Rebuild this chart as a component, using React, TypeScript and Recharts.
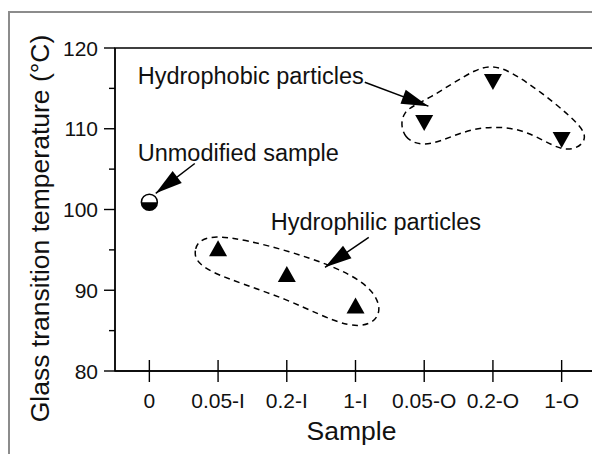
import React from 'react';
import { ComposedChart, XAxis, YAxis, Scatter, Line, ReferenceArea, ReferenceDot } from 'recharts';

const categories = ['0', '0.05-I', '0.2-I', '1-I', '0.05-O', '0.2-O', '1-O'];
const xTicks = [0, 1, 2, 3, 4, 5, 6];
const yTicks = [80, 85, 90, 95, 100, 105, 110, 115, 120];

const unmodified = [{ x: 0, y: 100.9 }];
const hydrophilic = [
  { x: 1, y: 95.2 },
  { x: 2, y: 92.0 },
  { x: 3, y: 88.1 },
];
const hydrophobic = [
  { x: 4, y: 110.7 },
  { x: 5, y: 115.8 },
  { x: 6, y: 108.6 },
];

// dashed enclosure outlines (data coordinates, smoothed by a closed B-spline)
const hydrophilicOutline = [
  { x: 0.81, y: 97.4 },
  { x: 0.62, y: 94.9 },
  { x: 0.73, y: 92.4 },
  { x: 2.04, y: 89.0 },
  { x: 2.95, y: 84.8 },
  { x: 3.44, y: 86.5 },
  { x: 3.24, y: 91.2 },
  { x: 2.04, y: 95.0 },
];
const hydrophobicOutline = [
  { x: 3.645, y: 112.3 },
  { x: 3.674, y: 108.6 },
  { x: 4.081, y: 107.6 },
  { x: 4.664, y: 110.3 },
  { x: 5.464, y: 110.3 },
  { x: 6.046, y: 106.6 },
  { x: 6.43, y: 108.6 },
  { x: 6.193, y: 111.3 },
  { x: 5.173, y: 118.0 },
  { x: 4.784, y: 117.8 },
  { x: 4.052, y: 113.5 },
];

// annotation arrows: tail -> tip
const arrowHydrophobic = [
  { x: 3.135, y: 115.75 },
  { x: 4.061, y: 112.8 },
];
const arrowUnmodified = [
  { x: 0.661, y: 105.7 },
  { x: 0.093, y: 102.0 },
];
const arrowHydrophilic = [
  { x: 3.193, y: 96.56 },
  { x: 2.556, y: 92.84 },
];

const annotationX = [-0.169, -0.169, 1.766];
const annotationY = [116.5, 107.0, 98.4];
const annotationText = ['Hydrophobic particles', 'Unmodified sample', 'Hydrophilic particles'];

const FONT = 'Arial, "Liberation Sans", Helvetica, sans-serif';
const TICK_SIZE = 11;
const TICK_MARGIN = 6;
const INK = '#111';

const YTick = (props: any) => {
  const { x, y, payload } = props;
  const axisX = x + TICK_SIZE + TICK_MARGIN;
  const major = payload.value % 10 === 0;
  return (
    <g>
      <line x1={axisX - (major ? 11 : 6)} x2={axisX} y1={y} y2={y} stroke="#000" strokeWidth={1.4} />
      {major && (
        <text x={x} y={y} textAnchor="end" dominantBaseline="central" fontSize={21} fill={INK} fontFamily={FONT}>
          {payload.value}
        </text>
      )}
    </g>
  );
};

const XTick = (props: any) => {
  const { x, y, payload } = props;
  const axisY = y - TICK_SIZE - TICK_MARGIN;
  return (
    <g>
      <line x1={x} x2={x} y1={axisY - 11} y2={axisY + 11} stroke="#000" strokeWidth={1.4} />
      <text x={x} y={axisY + 29.5} textAnchor="middle" dominantBaseline="central" fontSize={21} fill={INK} fontFamily={FONT}>
        {categories[payload.value]}
      </text>
    </g>
  );
};

const XTitle = (props: any) => {
  const vb = props.viewBox || {};
  return (
    <text x={vb.x + vb.width / 2 - 4} y={vb.y + 60} textAnchor="middle" dominantBaseline="central" fontSize={26.5} fill={INK} fontFamily={FONT}>
      Sample
    </text>
  );
};

const YTitle = (props: any) => {
  const vb = props.viewBox || {};
  const cx = vb.x + 32;
  const cy = vb.y + vb.height / 2 + 19;
  return (
    <text x={cx} y={cy} transform={`rotate(-90 ${cx} ${cy})`} textAnchor="middle" dominantBaseline="central" fontSize={26.5} fill={INK} fontFamily={FONT}>
      Glass transition temperature (°C)
    </text>
  );
};

const HalfCircle = (props: any) => {
  const { cx, cy } = props;
  const r = 8;
  return (
    <g>
      <path d={`M ${cx - r} ${cy} A ${r} ${r} 0 0 0 ${cx + r} ${cy} Z`} fill="#000" />
      <circle cx={cx} cy={cy} r={r} fill="none" stroke="#000" strokeWidth={1.5} />
    </g>
  );
};

const UpTriangle = (props: any) => {
  const { cx, cy } = props;
  return <polygon points={`${cx},${cy - 8} ${cx + 9},${cy + 8} ${cx - 9},${cy + 8}`} fill="#000" />;
};

const DownTriangle = (props: any) => {
  const { cx, cy } = props;
  return <polygon points={`${cx - 9},${cy - 8} ${cx + 9},${cy - 8} ${cx},${cy + 8}`} fill="#000" />;
};

const ArrowHead = (props: any) => {
  const { cx, cy, index, points } = props;
  if (!points || index !== points.length - 1 || index === 0) return <g key={`ah-${index}`} />;
  const prev = points[index - 1];
  const ang = Math.atan2(cy - prev.y, cx - prev.x);
  const L = 27;
  const W = 7.5;
  const bx = cx - L * Math.cos(ang);
  const by = cy - L * Math.sin(ang);
  const px = -Math.sin(ang) * W;
  const py = Math.cos(ang) * W;
  return (
    <polygon
      key={`ah-${index}`}
      points={`${cx},${cy} ${bx + px},${by + py} ${bx - px},${by - py}`}
      fill="#000"
    />
  );
};

const arrows = [arrowHydrophobic, arrowUnmodified, arrowHydrophilic];
const outlines = [hydrophilicOutline, hydrophobicOutline];

export default function App() {
  return (
    <div style={{ position: 'relative', width: 592, height: 446, fontFamily: FONT }}>
      <div
        style={{
          position: 'absolute',
          left: 0,
          top: 3,
          right: 0,
          bottom: 0,
          borderLeft: '2px solid #8c8c8c',
          borderTop: '2px solid #8c8c8c',
        }}
      />
      <ComposedChart
        width={592}
        height={446}
        margin={{ top: 40, right: 4, bottom: 0, left: 0 }}
        style={{ position: 'absolute', left: 0, top: 0 }}
      >
        <XAxis
          type="number"
          dataKey="x"
          domain={[-0.5, 6.5]}
          ticks={xTicks}
          interval={0}
          height={83}
          tickSize={TICK_SIZE}
          tickMargin={TICK_MARGIN}
          tickLine={false}
          tick={XTick}
          axisLine={{ stroke: '#000', strokeWidth: 1.4 }}
          allowDataOverflow
          label={{ content: XTitle }}
        />
        <YAxis
          type="number"
          dataKey="y"
          domain={[80, 120]}
          ticks={yTicks}
          interval={0}
          width={107}
          tickSize={TICK_SIZE}
          tickMargin={TICK_MARGIN}
          tickLine={false}
          tick={YTick}
          axisLine={{ stroke: '#000', strokeWidth: 1.4 }}
          allowDataOverflow
          label={{ content: YTitle }}
        />
        <ReferenceArea x1={-0.5} x2={6.5} y1={80} y2={120} fill="none" fillOpacity={0} stroke="#000" strokeWidth={1.4} />
        {outlines.map((o, i) => (
          <Line
            key={`outline-${i}`}
            data={o}
            dataKey="y"
            type="basisClosed"
            stroke="#000"
            strokeWidth={1.5}
            strokeDasharray="6 4.5"
            dot={false}
            activeDot={false}
            isAnimationActive={false}
            legendType="none"
          />
        ))}
        {arrows.map((a, i) => (
          <Line
            key={`arrow-${i}`}
            data={a}
            dataKey="y"
            type="linear"
            stroke="#000"
            strokeWidth={1.5}
            dot={ArrowHead}
            activeDot={false}
            isAnimationActive={false}
            legendType="none"
          />
        ))}
        <Scatter data={unmodified} shape={HalfCircle} isAnimationActive={false} />
        <Scatter data={hydrophilic} shape={UpTriangle} isAnimationActive={false} />
        <Scatter data={hydrophobic} shape={DownTriangle} isAnimationActive={false} />
        {annotationText.map((t, i) => (
          <ReferenceDot
            key={t}
            x={annotationX[i]}
            y={annotationY[i]}
            r={0}
            ifOverflow="visible"
            shape={(p: any) => (
              <text x={p.cx} y={p.cy} textAnchor="start" dominantBaseline="central" fontSize={23.5} fill={INK} fontFamily={FONT}>
                {t}
              </text>
            )}
          />
        ))}
      </ComposedChart>
    </div>
  );
}
